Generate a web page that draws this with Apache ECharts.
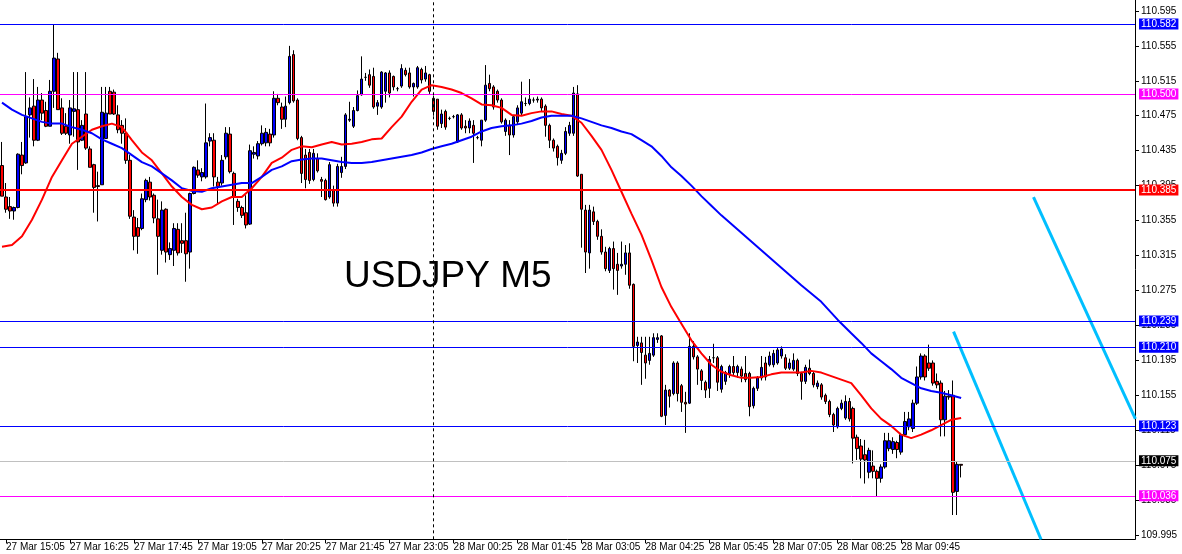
<!DOCTYPE html>
<html><head><meta charset="utf-8">
<script src="https://cdn.jsdelivr.net/npm/echarts@6/dist/echarts.min.js"></script>
<style>html,body{margin:0;padding:0;background:#fff}#c{width:1182px;height:554px}</style>
</head><body><div id="c"></div>
<script>
// ---- data ----
const symbolTitle = 'USDJPY M5';
const opens = [
110.418,110.382,110.371,110.366,110.370,110.430,110.421,110.476,110.486,110.447,
110.493,110.481,110.463,110.503,110.540,110.484,110.463,110.453,110.480,110.482,
110.447,110.477,110.437,110.419,110.395,110.396,110.449,110.503,110.502,110.476,
110.464,110.455,110.424,110.359,110.347,110.346,110.379,110.399,110.384,110.357,
110.321,110.368,110.316,110.321,110.345,110.332,110.332,110.319,110.386,110.413,
110.405,110.405,110.446,110.447,110.399,110.398,110.428,110.454,110.409,110.377,
110.370,110.364,110.351,110.431,110.429,110.443,110.444,110.454,110.453,110.495,
110.485,110.471,110.490,110.545,110.493,110.450,110.430,110.433,110.402,110.426,
110.402,110.401,110.382,110.390,110.375,110.410,110.417,110.470,110.463,110.481,
110.499,110.519,110.522,110.520,110.486,110.485,110.503,110.524,110.520,110.506,
110.509,110.527,110.524,110.508,110.508,110.528,110.517,110.522,110.495,110.494,
110.466,110.480,110.472,110.474,110.445,110.476,110.463,110.461,110.464,110.450,
110.447,110.470,110.512,110.508,110.503,110.493,110.457,110.464,110.453,110.468,
110.478,110.489,110.489,110.493,110.493,110.494,110.486,110.464,110.447,110.440,
110.424,110.432,110.455,110.455,110.500,110.408,110.367,110.318,110.365,110.354,
110.337,110.319,110.298,110.323,110.305,110.303,110.305,110.318,110.282,110.212,
110.215,110.201,110.195,110.201,110.219,110.223,110.132,110.161,110.157,110.192,
110.166,110.147,110.146,110.211,110.199,110.183,110.170,110.163,110.198,110.198,
110.162,110.171,110.180,110.188,110.181,110.185,110.180,110.180,110.143,110.163,
110.175,110.192,110.190,110.190,110.192,110.200,110.198,110.186,110.185,110.195,
110.180,110.171,110.186,110.180,110.165,110.167,110.155,110.148,110.133,110.119,
110.140,110.129,110.148,110.140,110.107,110.097,110.087,110.067,110.074,110.068,
110.060,110.073,110.094,110.093,110.101,110.090,110.110,110.119,110.117,110.146,
110.176,110.200,110.192,110.192,110.171,110.169,110.127,110.154,110.155,110.045,
110.076];
const highs = [
110.445,110.398,110.382,110.371,110.432,110.445,110.525,110.496,110.517,110.508,
110.501,110.491,110.516,110.579,110.547,110.495,110.478,110.493,110.525,110.525,
110.470,110.525,110.440,110.420,110.411,110.508,110.508,110.508,110.505,110.487,
110.470,110.472,110.430,110.367,110.358,110.386,110.403,110.405,110.386,110.379,
110.377,110.369,110.330,110.352,110.352,110.352,110.364,110.387,110.417,110.424,
110.415,110.489,110.455,110.455,110.405,110.430,110.462,110.462,110.411,110.380,
110.372,110.384,110.442,110.440,110.446,110.464,110.461,110.460,110.503,110.500,
110.490,110.497,110.555,110.550,110.495,110.452,110.437,110.437,110.437,110.432,
110.405,110.403,110.422,110.395,110.420,110.428,110.478,110.491,110.485,110.504,
110.543,110.524,110.528,110.530,110.493,110.526,110.525,110.527,110.521,110.508,
110.534,110.530,110.530,110.513,110.532,110.530,110.532,110.523,110.498,110.494,
110.482,110.482,110.474,110.476,110.477,110.478,110.470,110.472,110.470,110.452,
110.470,110.533,110.522,110.510,110.505,110.495,110.472,110.470,110.476,110.487,
110.514,110.496,110.517,110.496,110.497,110.496,110.488,110.466,110.449,110.442,
110.436,110.462,110.468,110.508,110.510,110.408,110.373,110.373,110.371,110.356,
110.345,110.325,110.325,110.331,110.318,110.331,110.327,110.329,110.283,110.222,
110.222,110.222,110.222,110.226,110.226,110.224,110.167,110.162,110.194,110.194,
110.168,110.159,110.226,110.217,110.201,110.185,110.172,110.200,110.214,110.200,
110.190,110.183,110.190,110.200,110.190,110.188,110.200,110.182,110.165,110.177,
110.200,110.199,110.205,110.207,110.210,110.211,110.202,110.197,110.203,110.197,
110.182,110.190,110.196,110.182,110.172,110.169,110.157,110.150,110.135,110.142,
110.150,110.155,110.152,110.142,110.110,110.105,110.104,110.095,110.092,110.070,
110.076,110.112,110.112,110.107,110.103,110.112,110.136,110.136,110.150,110.188,
110.203,110.202,110.213,110.195,110.180,110.172,110.160,110.161,110.172,110.079,
110.076];
const lows = [
110.383,110.364,110.357,110.356,110.369,110.408,110.420,110.450,110.440,110.446,
110.470,110.462,110.463,110.484,110.482,110.453,110.453,110.443,110.451,110.413,
110.446,110.436,110.416,110.364,110.354,110.396,110.449,110.477,110.476,110.455,
110.443,110.420,110.357,110.321,110.317,110.344,110.376,110.378,110.352,110.293,
110.316,110.307,110.310,110.303,110.315,110.318,110.285,110.300,110.385,110.404,
110.400,110.403,110.440,110.394,110.373,110.395,110.425,110.409,110.350,110.365,
110.358,110.346,110.350,110.426,110.425,110.441,110.440,110.440,110.450,110.487,
110.460,110.462,110.488,110.490,110.447,110.398,110.392,110.397,110.400,110.410,
110.382,110.378,110.380,110.371,110.371,110.404,110.414,110.468,110.461,110.480,
110.498,110.515,110.507,110.483,110.476,110.483,110.490,110.496,110.504,110.503,
110.507,110.520,110.506,110.497,110.506,110.512,110.514,110.500,110.475,110.459,
110.461,110.459,110.470,110.472,110.444,110.459,110.455,110.455,110.421,110.448,
110.440,110.468,110.503,110.482,110.490,110.466,110.452,110.430,110.450,110.465,
110.475,110.486,110.487,110.490,110.490,110.480,110.451,110.438,110.434,110.418,
110.420,110.430,110.452,110.452,110.405,110.324,110.295,110.300,110.350,110.333,
110.316,110.297,110.295,110.276,110.270,110.300,110.293,110.277,110.194,110.192,
110.167,110.174,110.190,110.199,110.215,110.130,110.121,110.141,110.155,110.148,
110.136,110.112,110.145,110.196,110.167,110.161,110.152,110.152,110.192,110.160,
110.158,110.167,110.175,110.178,110.175,110.170,110.170,110.131,110.140,110.160,
110.172,110.172,110.188,110.187,110.190,110.197,110.184,110.184,110.183,110.177,
110.150,110.168,110.178,110.164,110.162,110.150,110.145,110.130,110.113,110.117,
110.138,110.127,110.125,110.077,110.081,110.060,110.054,110.060,110.060,110.039,
110.055,110.071,110.091,110.088,110.083,110.087,110.108,110.115,110.113,110.144,
110.173,110.172,110.183,110.166,110.163,110.108,110.108,110.150,110.018,110.018,
110.061];
const closes = [
110.383,110.368,110.366,110.370,110.431,110.418,110.474,110.484,110.447,110.493,
110.478,110.463,110.503,110.541,110.482,110.455,110.455,110.484,110.483,110.445,
110.464,110.438,110.416,110.393,110.394,110.479,110.478,110.477,110.477,110.459,
110.455,110.424,110.360,110.337,110.337,110.380,110.401,110.382,110.358,110.337,
110.367,110.319,110.323,110.346,110.318,110.329,110.317,110.386,110.416,110.407,
110.410,110.444,110.450,110.405,110.394,110.424,110.455,110.411,110.382,110.370,
110.361,110.350,110.435,110.433,110.443,110.455,110.456,110.444,110.495,110.490,
110.471,110.486,110.543,110.492,110.449,110.409,110.402,110.401,110.432,110.412,
110.400,110.379,110.419,110.375,110.417,110.417,110.476,110.471,110.481,110.498,
110.517,110.519,110.510,110.485,110.490,110.525,110.524,110.501,110.508,110.506,
110.529,110.522,110.508,110.512,110.530,110.516,110.524,110.503,110.480,110.463,
110.477,110.462,110.472,110.474,110.476,110.461,110.461,110.469,110.455,110.450,
110.470,110.510,110.506,110.485,110.493,110.468,110.470,110.453,110.474,110.484,
110.491,110.489,110.494,110.493,110.494,110.484,110.464,110.447,110.438,110.427,
110.432,110.457,110.464,110.501,110.406,110.368,110.319,110.367,110.354,110.337,
110.319,110.300,110.323,110.300,110.298,110.305,110.318,110.281,110.211,110.216,
110.204,110.192,110.203,110.221,110.221,110.131,110.161,110.154,110.192,110.157,
110.147,110.145,110.211,110.199,110.185,110.172,110.161,110.196,110.198,110.170,
110.188,110.181,110.188,110.181,110.188,110.177,110.173,110.142,110.163,110.175,
110.187,110.176,110.200,110.203,110.207,110.208,110.186,110.192,110.195,110.180,
110.171,110.187,110.180,110.167,110.169,110.153,110.148,110.133,110.121,110.140,
110.146,110.148,110.128,110.106,110.094,110.082,110.081,110.092,110.068,110.060,
110.073,110.103,110.103,110.102,110.093,110.110,110.125,110.128,110.146,110.176,
110.200,110.176,110.186,110.169,110.167,110.127,110.154,110.153,110.044,110.076,
110.075];
// moving averages, [bar index, price]
const maFast = [[0,110.325],[2.5,110.327],[5,110.337],[7.5,110.356],[10,110.379],[12.5,110.405],[15,110.424],[17.5,110.443],[20,110.451],[22.5,110.459],[25,110.463],[27.5,110.466],[30,110.462],[32.5,110.447],[35,110.433],[37.5,110.424],[40,110.409],[42.5,110.394],[45,110.382],[47.5,110.373],[50,110.368],[52.5,110.370],[55,110.377],[57.5,110.382],[60,110.382],[62.5,110.392],[65,110.405],[67.5,110.421],[70,110.427],[72.5,110.436],[75,110.440],[77.5,110.439],[80,110.442],[82.5,110.445],[85,110.442],[87.5,110.443],[90,110.445],[92.5,110.448],[95,110.449],[97.5,110.462],[100,110.474],[102.5,110.491],[105,110.505],[107.5,110.510],[110,110.508],[112.5,110.505],[115,110.501],[117.5,110.495],[120,110.488],[122.5,110.487],[125,110.484],[127.5,110.476],[130,110.475],[132.5,110.478],[135,110.480],[137.5,110.480],[140,110.477],[142.5,110.475],[145,110.467],[147.5,110.452],[150,110.436],[152.5,110.413],[155,110.388],[157.5,110.363],[160,110.339],[162.5,110.310],[165,110.279],[167.5,110.256],[170,110.237],[172.5,110.218],[175,110.203],[177.5,110.190],[180,110.182],[182.5,110.178],[185,110.175],[187.5,110.175],[190,110.176],[192.5,110.179],[195,110.181],[197.5,110.181],[200,110.181],[202.5,110.183],[205,110.181],[207.5,110.177],[210,110.173],[212.5,110.169],[215,110.155],[217.5,110.140],[220,110.128],[222.5,110.120],[225,110.110],[227.5,110.106],[230,110.110],[232.5,110.115],[235,110.121],[237.5,110.127],[240,110.129]];
const maSlow = [[0,110.490],[2.5,110.482],[5,110.476],[7.5,110.472],[10,110.468],[12.5,110.466],[15,110.466],[17.5,110.462],[20,110.459],[22.5,110.455],[25,110.448],[27.5,110.443],[30,110.438],[32.5,110.430],[35,110.422],[37.5,110.417],[40,110.409],[42.5,110.401],[45,110.392],[47.5,110.389],[50,110.388],[52.5,110.392],[55,110.394],[57.5,110.396],[60,110.398],[62.5,110.398],[65,110.405],[67.5,110.413],[70,110.417],[72.5,110.423],[75,110.425],[77.5,110.426],[80,110.426],[82.5,110.424],[85,110.422],[87.5,110.421],[90,110.421],[92.5,110.422],[95,110.424],[97.5,110.426],[100,110.428],[102.5,110.430],[105,110.433],[107.5,110.437],[110,110.440],[112.5,110.443],[115,110.447],[117.5,110.451],[120,110.457],[122.5,110.461],[125,110.463],[127.5,110.464],[130,110.466],[132.5,110.469],[135,110.473],[137.5,110.475],[140,110.475],[142.5,110.475],[145,110.472],[147.5,110.468],[150,110.464],[152.5,110.461],[155,110.457],[157.5,110.454],[160,110.447],[162.5,110.440],[165,110.429],[167.5,110.416],[170,110.406],[172.5,110.395],[175,110.383],[177.5,110.372],[180,110.361],[185,110.341],[190,110.321],[195,110.301],[200,110.281],[205,110.262],[209.2,110.241],[212.5,110.226],[215,110.215],[217.5,110.203],[220,110.194],[222.5,110.185],[225,110.175],[227.5,110.169],[230,110.163],[232.5,110.160],[235,110.158],[237.5,110.155],[240,110.152]];
// trend lines [bar index, price]
const trendA = [[258.1,110.382],[283.6,110.128]];
const trendB = [[238.1,110.228],[260.0,109.990]];
// horizontal price levels
const levels = [110.582,110.500,110.385,110.239,110.210,110.123,110.075,110.036];
const tickLabels = ['27 Mar 15:05','27 Mar 16:25','27 Mar 17:45','27 Mar 19:05','27 Mar 20:25','27 Mar 21:45','27 Mar 23:05','28 Mar 00:25','28 Mar 01:45','28 Mar 03:05','28 Mar 04:25','28 Mar 05:45','28 Mar 07:05','28 Mar 08:25','28 Mar 09:45'];
const daySeparator = '28 Mar 00:00';

// ---- styles ----
const levelLineColors = ['#0000ff','#ff00ff','#ff0000','#0000ff','#0000ff','#0000ff','#c0c0c0','#ff00ff'];
const levelBoxColors  = ['#0000ff','#ff00ff','#ff0000','#0000ff','#0000ff','#0000ff','#000000','#ff00ff'];
const levelWidths     = [1,1,2,1,1,1,1,1];
const FONT = '"Liberation Sans", Arial, sans-serif';

// categories: 5-minute bars
const MON = ['Jan','Feb','Mar','Apr','May','Jun','Jul','Aug','Sep','Oct','Nov','Dec'];
const t0 = Date.UTC(2019, 2, 27, 15, 0);
const NCAT = 284;
const categories = [];
for (let i = 0; i < NCAT; i++) {
  const d = new Date(t0 + i * 300000);
  categories.push(d.getUTCDate() + ' ' + MON[d.getUTCMonth()] + ' ' +
    String(d.getUTCHours()).padStart(2,'0') + ':' + String(d.getUTCMinutes()).padStart(2,'0'));
}
const tickSet = new Set(tickLabels);
const candleData = opens.map((o, i) => [o, closes[i], lows[i], highs[i]]);

const markData = levels.map((v, i) => ({
  yAxis: v,
  lineStyle: { color: levelLineColors[i], width: levelWidths[i], type: 'solid' },
  label: { show: true, position: 'end', formatter: v.toFixed(3), backgroundColor: levelBoxColors[i],
    color: '#ffffff', padding: [1, 2, 0, 2], fontSize: 10, fontFamily: FONT, distance: 4 }
}));
markData.push({ xAxis: daySeparator, lineStyle: { color: '#000', width: 1, type: [3, 3] }, label: { show: false } });

const chart = echarts.init(document.getElementById('c'), null, { renderer: 'canvas' });
chart.setOption({
  animation: false,
  backgroundColor: '#ffffff',
  grid: [
    { left: -1, right: 47, top: 0, bottom: 14.7 },
    { left: -1, right: 47, top: 10.9, bottom: 18.9 }
  ],
  xAxis: [
    { type: 'category', gridIndex: 0, data: categories, boundaryGap: true,
      axisLine: { onZero: false, lineStyle: { color: '#000', width: 1 } },
      axisTick: { show: true, alignWithLabel: true, length: 4, interval: (i, v) => tickSet.has(v), lineStyle: { color: '#000' } },
      axisLabel: { interval: (i, v) => tickSet.has(v), align: 'left', margin: 3, fontSize: 10, fontFamily: FONT, color: '#000' },
      splitLine: { show: false } },
    { type: 'value', gridIndex: 0, min: -0.5, max: NCAT - 0.5, show: false, axisLine: { onZero: false } },
    { type: 'value', gridIndex: 1, min: 0, max: 1, show: false, axisLine: { onZero: false } }
  ],
  yAxis: [
    { type: 'value', gridIndex: 0, position: 'right', min: 109.9902, max: 110.6075,
      axisLine: { show: true, onZero: false, lineStyle: { color: '#000', width: 1 } },
      axisTick: { show: false }, axisLabel: { show: false }, splitLine: { show: false } },
    { type: 'value', gridIndex: 1, position: 'right', min: 109.995, max: 110.595, interval: 0.04,
      axisLine: { show: false, onZero: false },
      axisTick: { show: true, length: 4, lineStyle: { color: '#000' } },
      axisLabel: { margin: 6, fontSize: 10, fontFamily: FONT, color: '#000', formatter: v => v.toFixed(3) },
      splitLine: { show: false } }
  ],
  graphic: [{ type: 'text', x: 344, y: 276.5, z: 10,
    style: { text: symbolTitle, font: '37px "Liberation Sans", Arial, sans-serif', fill: '#000', align: 'left', verticalAlign: 'middle' } }],
  series: [
    { type: 'candlestick', xAxisIndex: 0, yAxisIndex: 0, data: candleData, barWidth: 3,
      itemStyle: { color: '#0000ff', color0: '#ff0000', borderColor: '#000', borderColor0: '#000', borderColorDoji: '#000', borderWidth: 1 },
      markLine: { symbol: ['none', 'none'], silent: true, animation: false, data: markData } },
    { type: 'line', xAxisIndex: 1, yAxisIndex: 0, data: maFast, showSymbol: false, symbol: 'none',
      lineStyle: { color: '#ff0000', width: 2 }, z: 4 },
    { type: 'line', xAxisIndex: 1, yAxisIndex: 0, data: maSlow, showSymbol: false, symbol: 'none',
      lineStyle: { color: '#0000ff', width: 2 }, z: 4 },
    { type: 'line', xAxisIndex: 1, yAxisIndex: 0, data: trendA, showSymbol: false, symbol: 'none',
      lineStyle: { color: '#00bfff', width: 3 }, z: 4 },
    { type: 'line', xAxisIndex: 1, yAxisIndex: 0, data: trendB, showSymbol: false, symbol: 'none',
      lineStyle: { color: '#00bfff', width: 3 }, z: 4 }
  ]
});
</script></body></html>
